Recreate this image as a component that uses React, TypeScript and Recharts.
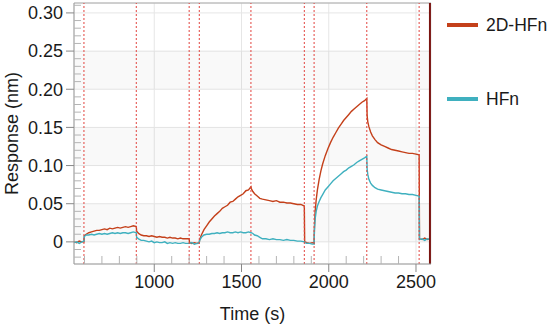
import React from "react";
import {
  LineChart,
  Line,
  XAxis,
  YAxis,
  CartesianGrid,
  ReferenceLine,
  ReferenceArea,
} from "recharts";

// time points (s)
const TIME = [
  540, 555, 570, 585, 597,
  599, 610, 625, 640, 655, 670, 685, 700, 715, 730, 745, 760, 775, 790, 805, 820, 835, 850, 865, 880, 897,
  899, 910, 925, 940, 955, 970, 985, 1000, 1015, 1030, 1045, 1060, 1075, 1090, 1105, 1120, 1135, 1150, 1165, 1180, 1200,
  1202, 1215, 1230, 1245, 1258,
  1260, 1270, 1285, 1300, 1315, 1330, 1345, 1360, 1375, 1390, 1405, 1420, 1435, 1450, 1465, 1480, 1495, 1510, 1525, 1540, 1554,
  1556, 1565, 1575, 1590, 1605, 1620, 1640, 1660, 1680, 1700, 1720, 1740, 1760, 1780, 1800, 1820, 1840, 1860,
  1862, 1875, 1890, 1905, 1916,
  1918, 1922, 1928, 1935, 1945, 1955, 1965, 1980, 1995, 2010, 2025, 2040, 2055, 2070, 2085, 2100, 2115, 2130, 2145, 2160, 2175, 2190, 2205, 2218,
  2220, 2224, 2230, 2240, 2250, 2265, 2280, 2300, 2320, 2340, 2360, 2380, 2400, 2420, 2440, 2460, 2480, 2500, 2518,
  2520, 2535, 2550, 2565, 2578,
];

// 2D-HFn response (nm)
const RESP_2D = [
  0.0, -0.001, 0.001, 0.0, 0.0,
  0.008, 0.01, 0.012, 0.013, 0.014, 0.015, 0.015, 0.016, 0.017, 0.016, 0.018, 0.017, 0.018, 0.019, 0.018, 0.019, 0.02, 0.019, 0.02, 0.021, 0.02,
  0.014, 0.011, 0.009, 0.008, 0.008, 0.007, 0.008, 0.007, 0.006, 0.007, 0.006, 0.006, 0.005, 0.006, 0.005, 0.005, 0.004, 0.005, 0.004, 0.004, 0.004,
  -0.001, -0.002, -0.001, -0.002, -0.001,
  0.003, 0.009, 0.016, 0.021, 0.026, 0.03, 0.034, 0.037, 0.04, 0.044, 0.046, 0.048, 0.052, 0.053, 0.056, 0.059, 0.061, 0.063, 0.067, 0.068, 0.072,
  0.07, 0.066, 0.063, 0.06, 0.057, 0.056, 0.055, 0.054, 0.053, 0.054, 0.052, 0.052, 0.051, 0.051, 0.05, 0.049, 0.049, 0.047,
  0.0, -0.001, -0.002, -0.001, -0.002,
  0.02, 0.04, 0.055, 0.068, 0.082, 0.093, 0.102, 0.113, 0.122, 0.13, 0.137, 0.143, 0.149, 0.154, 0.159, 0.163, 0.167, 0.171, 0.174, 0.177, 0.18, 0.183, 0.185, 0.188,
  0.165, 0.157, 0.151, 0.144, 0.139, 0.134, 0.13, 0.127, 0.125, 0.123, 0.121, 0.12, 0.119, 0.118, 0.117, 0.116, 0.116, 0.115, 0.114,
  0.004, 0.003, 0.005, 0.003, 0.004,
];

// HFn response (nm)
const RESP_HFN = [
  -0.001, 0.0, -0.002, 0.0, 0.001,
  0.007, 0.009, 0.009, 0.01, 0.009, 0.01, 0.011, 0.01, 0.011, 0.01, 0.011, 0.012, 0.011, 0.012, 0.011, 0.012, 0.012, 0.011, 0.012, 0.013, 0.012,
  0.006, 0.004, 0.002, 0.002, 0.001, 0.0, 0.001, -0.001, 0.0, -0.001, -0.001, 0.0, -0.002, -0.001, -0.002, -0.001, -0.002, -0.002, -0.001, -0.002, -0.002,
  -0.002, -0.001, -0.003, -0.002, -0.001,
  0.002, 0.006, 0.009, 0.01, 0.01, 0.011, 0.011, 0.012, 0.011, 0.012, 0.012, 0.013, 0.012, 0.012, 0.013, 0.012, 0.013, 0.012, 0.012, 0.013, 0.012,
  0.012, 0.011, 0.009, 0.008, 0.006, 0.004, 0.004, 0.003, 0.004, 0.003, 0.003, 0.002, 0.003, 0.002, 0.002, 0.001, 0.001, 0.0,
  -0.001, -0.002, -0.002, -0.003, -0.003,
  0.015, 0.03, 0.04, 0.047, 0.053, 0.058, 0.062, 0.068, 0.072, 0.076, 0.08, 0.083, 0.086, 0.089, 0.092, 0.094, 0.097, 0.099, 0.101, 0.104, 0.106, 0.108, 0.11, 0.112,
  0.095, 0.088, 0.082, 0.077, 0.074, 0.071, 0.069, 0.068, 0.067, 0.066, 0.065, 0.064, 0.064, 0.063, 0.063, 0.062, 0.062, 0.061, 0.06,
  0.003, 0.004, 0.002, 0.004, 0.003,
];

// step boundaries (s)
const STEP_LINES = [597, 897, 1200, 1258, 1554, 1860, 1916, 2218, 2518];
const END_LINE = 2580;

const X_DOMAIN = [540, 2586];
const Y_DOMAIN = [-0.029, 0.313];
const X_TICKS = [1000, 1500, 2000, 2500];
const X_MINOR = [600, 700, 800, 900, 1100, 1200, 1300, 1400, 1600, 1700, 1800, 1900, 2100, 2200, 2300, 2400];
const Y_TICKS = [0, 0.05, 0.1, 0.15, 0.2, 0.25, 0.3];
const Y_MINOR = [
  -0.02, -0.01, 0.01, 0.02, 0.03, 0.04, 0.06, 0.07, 0.08, 0.09, 0.11, 0.12, 0.13, 0.14,
  0.16, 0.17, 0.18, 0.19, 0.21, 0.22, 0.23, 0.24, 0.26, 0.27, 0.28, 0.29, 0.31,
];
const BANDS = [
  [0, 0.05],
  [0.1, 0.15],
  [0.2, 0.25],
];

const SERIES = [
  { key: "d2", name: "2D-HFn", color: "#c4401a" },
  { key: "hfn", name: "HFn", color: "#3fb0bf" },
];

const data = TIME.map((t, i) => ({ t, d2: RESP_2D[i], hfn: RESP_HFN[i] }));

const FONT = "'Liberation Sans', Arial, sans-serif";
const tickStyle = { fontSize: 18, fill: "#1a1a1a", fontFamily: FONT };

// minor axes: draw tick lines only, no labels
const NoLabel = () => <g />;

export default function App() {
  return (
    <div style={{ position: "fixed", left: 0, top: 0, width: 550, height: 325, background: "#fff" }}>
      <LineChart width={550} height={325} data={data} margin={{ top: 3, right: 119, left: 0, bottom: 0 }}>
        {BANDS.map(([a, b]) => (
          <ReferenceArea key={a} y1={a} y2={b} fill="#000" fillOpacity={0.022} stroke="none" />
        ))}
        <CartesianGrid stroke="#e6e6e6" />
        <XAxis
          dataKey="t"
          type="number"
          domain={X_DOMAIN}
          allowDataOverflow
          ticks={X_TICKS}
          tick={tickStyle}
          tickSize={8}
          tickMargin={3}
          height={61}
          axisLine={{ stroke: "#999" }}
          tickLine={{ stroke: "#888" }}
          label={{ value: "Time (s)", position: "insideBottom", offset: 5, style: { fontSize: 18, fill: "#1a1a1a", fontFamily: FONT } }}
        />
        <XAxis
          xAxisId="minor"
          dataKey="t"
          type="number"
          domain={X_DOMAIN}
          allowDataOverflow
          ticks={X_MINOR}
          interval={0}
          mirror
          height={1}
          tick={NoLabel}
          tickSize={8}
          axisLine={false}
          tickLine={{ stroke: "#b4b4b4" }}
        />
        <YAxis
          type="number"
          domain={Y_DOMAIN}
          allowDataOverflow
          ticks={Y_TICKS}
          tickFormatter={(v: number) => (v === 0 ? "0" : v.toFixed(2))}
          tick={tickStyle}
          tickSize={8}
          tickMargin={3}
          width={74}
          axisLine={{ stroke: "#999" }}
          tickLine={{ stroke: "#888" }}
          label={{
            value: "Response (nm)",
            angle: -90,
            position: "insideLeft",
            offset: 12,
            style: { fontSize: 18, fill: "#1a1a1a", fontFamily: FONT, textAnchor: "middle" },
          }}
        />
        <YAxis
          yAxisId="minor"
          type="number"
          domain={Y_DOMAIN}
          allowDataOverflow
          ticks={Y_MINOR}
          interval={0}
          mirror
          width={1}
          tick={NoLabel}
          tickSize={7}
          axisLine={false}
          tickLine={{ stroke: "#b4b4b4" }}
        />
        <ReferenceLine y={Y_DOMAIN[1]} stroke="#aaa" />
        {SERIES.map((s) => (
          <Line
            key={s.key}
            dataKey={s.key}
            name={s.name}
            type="linear"
            stroke={s.color}
            strokeWidth={1.4}
            dot={false}
            isAnimationActive={false}
          />
        ))}
        {STEP_LINES.map((x) => (
          <ReferenceLine key={x} x={x} stroke="#e2443f" strokeDasharray="2 2" strokeWidth={1} />
        ))}
        <ReferenceLine x={END_LINE} stroke="#7a1410" strokeWidth={2} />
      </LineChart>
      <div style={{ position: "absolute", left: 447, top: 12, fontFamily: FONT, fontSize: 17.5, color: "#1a1a1a" }}>
        {SERIES.map((s, i) => (
          <div key={s.key} style={{ display: "flex", alignItems: "center", height: 26, marginBottom: i === 0 ? 48 : 0 }}>
            <span style={{ display: "inline-block", width: 31, height: 4, background: s.color, marginRight: 8 }} />
            <span>{s.name}</span>
          </div>
        ))}
      </div>
    </div>
  );
}
